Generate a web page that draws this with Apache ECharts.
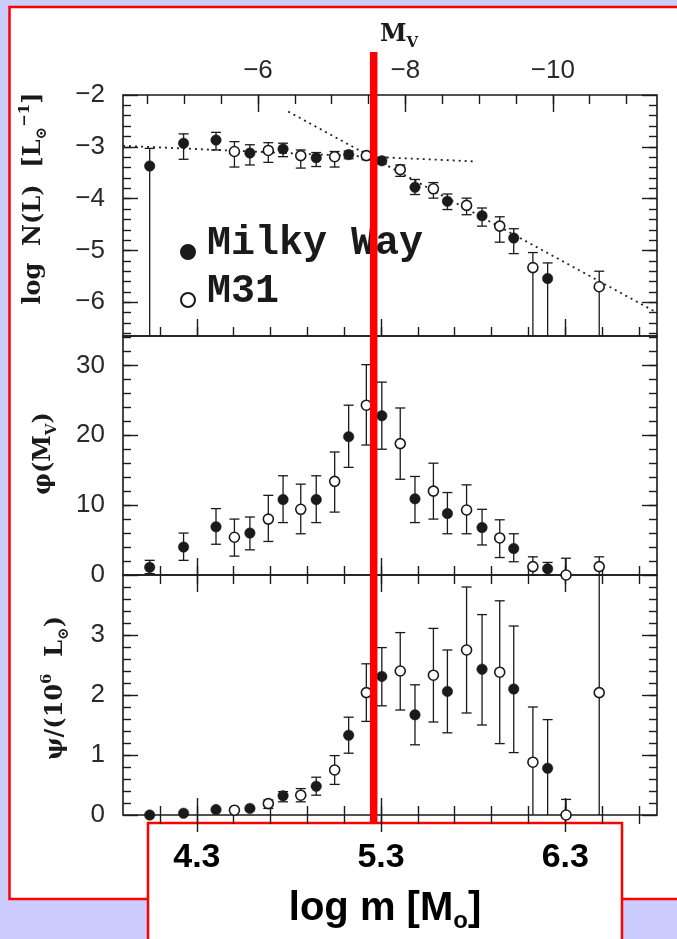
<!DOCTYPE html>
<html><head><meta charset="utf-8">
<script src="https://cdn.jsdelivr.net/npm/echarts@6/dist/echarts.min.js"></script>
<style>html,body{margin:0;padding:0;background:#ccccff;}#c{width:677px;height:939px;}</style>
</head><body><div id="c"></div>
<script>
// ---- x positions (absolute magnitude M_V of each bin) ----
const mwMv  = [-4.53, -4.99, -5.43, -5.89, -6.34, -6.79, -7.23, -7.68, -8.13, -8.57, -9.04, -9.47, -9.93];
const m31Mv = [-5.68, -6.14, -6.58, -7.04, -7.47, -7.93, -8.38, -8.83, -9.28, -9.73, -10.18, -10.63];

// ---- panel 1: log N(L) ----
const mwLogN    = [-3.37, -2.93, -2.87, -3.12, -3.04, -3.21, -3.15, -3.27, -3.78, -4.05, -4.33, -4.76, -5.54];
const mwLogNHi  = [-3.03, -2.75, -2.72, -2.96, -2.93, -3.11, -3.08, -3.20, -3.63, -3.91, -4.18, -4.58, -5.24];
const mwLogNLo  = [null, -3.24, -3.06, -3.35, -3.19, -3.38, -3.23, -3.33, -3.92, -4.21, -4.53, -5.06, null];
const m31LogN   = [-3.09, -3.07, -3.17, -3.19, -3.17, -3.44, -3.81, -4.13, -4.53, -5.33, null, -5.70];
const m31LogNHi = [-2.90, -2.92, -3.06, -3.09, -3.09, -3.35, -3.69, -3.99, -4.35, -5.04, null, -5.40];
const m31LogNLo = [-3.39, -3.30, -3.41, -3.39, -3.25, -3.57, -3.99, -4.31, -4.84, null, null, null];
// dotted fits in panel 1
const fitFlatMv    = [-4.168, -8.92];
const fitFlatLogN  = [-2.98, -3.28];
const fitSteepMv   = [-6.41, -11.414];
const fitSteepLogN = [-2.32, -6.20];

// ---- panel 2: phi(M_V) ----
const mwPhi    = [1.1, 4.0, 6.9, 6.0, 10.8, 10.8, 19.8, 22.8, 10.9, 8.8, 6.8, 3.8, 0.9];
const mwPhiHi  = [2.1, 6.0, 9.5, 8.3, 14.2, 14.2, 24.3, 27.6, 14.1, 11.8, 9.4, 5.9, 1.8];
const mwPhiLo  = [0.2, 2.1, 4.4, 3.6, 7.5, 7.5, 15.4, 18.0, 7.5, 5.9, 4.3, 1.9, 0];
const m31Phi   = [5.4, 8.0, 9.4, 13.4, 24.3, 18.8, 12.0, 9.3, 5.3, 1.2, 0, 1.2];
const m31PhiHi = [8.0, 11.4, 13.0, 17.6, 30.1, 23.9, 16.0, 12.9, 7.9, 2.6, 2.4, 2.6];
const m31PhiLo = [2.7, 4.8, 5.9, 9.0, 18.6, 13.7, 8.0, 5.9, 2.5, 0, 0, 0];

// ---- panel 3: psi / (10^6 L_sun) ----
const mwPsi    = [0.0, 0.03, 0.09, 0.11, 0.32, 0.48, 1.33, 2.31, 1.67, 2.06, 2.43, 2.10, 0.78];
const mwPsiHi  = [null, null, null, null, 0.39, 0.63, 1.63, 2.79, 2.17, 2.75, 3.34, 3.15, 1.59];
const mwPsiLo  = [null, null, null, null, 0.22, 0.33, 1.03, 1.82, 1.17, 1.37, 1.50, 1.04, null];
const m31Psi   = [0.08, 0.19, 0.33, 0.75, 2.04, 2.40, 2.33, 2.75, 2.38, 0.88, 0, 2.04];
const m31PsiHi = [null, 0.25, 0.44, 0.99, 2.52, 3.04, 3.11, 3.80, 3.57, 1.80, 0.26, 4.6];
const m31PsiLo = [null, 0.11, 0.22, 0.51, 1.56, 1.75, 1.55, 1.70, 1.19, null, null, null];

// ---- axis ranges & tick labels ----
const mvRange   = [-11.414, -4.168];
const logMRange = [3.899, 6.798];
const mvLabels  = [-6, -8, -10];
const logMLabels = [4.3, 5.3, 6.3];
const logNRange = [-6.65, -2];  const logNLabels = [-6, -5, -4, -3, -2];
const phiRange  = [0, 34.2];    const phiLabels  = [0, 10, 20, 30];
const psiRange  = [0, 4];       const psiLabels  = [0, 1, 2, 3];
const redMarkLogM = 5.26;

// ---------------------------------------------------------------
const ink = '#1a1a1a';
const step = (a, b, s) => { const r = []; for (let v = a; v <= b + 1e-9; v += s) r.push(+v.toFixed(3)); return r; };
const mvMinor   = step(-11, -4.5, 0.5);
const logMMinor = step(4.1, 6.7, 0.2);
const logNMinor = step(-6.6, -2.2, 0.2);
const phiMinor  = step(2, 34, 2);
const psiMinor  = step(0.2, 3.8, 0.2);
const minus = v => (v < 0 ? '\u2212' + String(Math.abs(v)) : String(v));
const labelFont = 'Liberation Sans';
const serif = 'DejaVu Serif';

function xTick(gi, kind, pos, vals, len, extra) {
  const mv = kind === 'mv';
  const r = mv ? mvRange : logMRange;
  return Object.assign({
    type: 'value', gridIndex: gi, position: pos, min: r[0], max: r[1], inverse: mv,
    axisLine: {show: false}, splitLine: {show: false},
    axisTick: {show: true, inside: true, length: len, customValues: vals, lineStyle: {color: ink, width: 1.4}},
    axisLabel: {show: false}
  }, extra || {});
}
function yTick(gi, pos, rng, vals, len, extra) {
  return Object.assign({
    type: 'value', gridIndex: gi, position: pos, min: rng[0], max: rng[1],
    axisLine: {show: false}, splitLine: {show: false},
    axisTick: {show: true, inside: true, length: len, customValues: vals, lineStyle: {color: ink, width: 1.4}},
    axisLabel: {show: false}
  }, extra || {});
}
const tickLabel = vals => ({show: true, customValues: vals, formatter: minus, fontSize: 26,
  fontFamily: labelFont, color: '#2a2a2a', margin: 18, showMinLabel: true, showMaxLabel: true});
const subRich = {
  b: {fontFamily: serif, fontWeight: 'bold', fontSize: 24, color: ink, lineHeight: 32},
  sub: {fontFamily: serif, fontWeight: 'bold', fontSize: 15, color: ink, lineHeight: 15, verticalAlign: 'bottom'},
  sup: {fontFamily: serif, fontWeight: 'bold', fontSize: 15, color: ink, lineHeight: 15, verticalAlign: 'top'}
};
const yName = (txt, gap, pad) => ({name: txt, nameLocation: 'middle', nameGap: gap, nameRotate: 90,
  nameTextStyle: {rich: subRich, padding: pad}});

const xAxis = [
  xTick(0, 'mv', 'top', mvLabels, 17, {
    axisLabel: {show: true, customValues: mvLabels, formatter: minus, fontSize: 26, fontFamily: labelFont,
      color: '#2a2a2a', margin: 11},
    name: '{b|M}{sub|V}', nameLocation: 'middle', nameGap: 44,
    nameTextStyle: {rich: subRich, padding: [0, 0, 0, 18]}
  }),
  xTick(0, 'mv', 'top', mvMinor, 9),
  xTick(0, 'lm', 'bottom', logMLabels, 17),
  xTick(0, 'lm', 'bottom', logMMinor, 9),
  xTick(1, 'mv', 'top', [], 0, {show: false}),
  xTick(1, 'lm', 'top', logMLabels, 17),
  xTick(1, 'lm', 'top', logMMinor, 9),
  xTick(1, 'lm', 'bottom', logMLabels, 17),
  xTick(1, 'lm', 'bottom', logMMinor, 9),
  xTick(2, 'mv', 'top', [], 0, {show: false}),
  xTick(2, 'lm', 'top', logMLabels, 17),
  xTick(2, 'lm', 'top', logMMinor, 9),
  xTick(2, 'lm', 'bottom', logMLabels, 17, {
    axisLabel: {show: true, customValues: logMLabels, formatter: v => v.toFixed(1), fontSize: 34,
      fontWeight: 'bold', fontFamily: labelFont, color: '#000', margin: 26},
    name: '{a|log m [M}{s|o}{a|]}', nameLocation: 'middle', nameGap: 70,
    nameTextStyle: {padding: [0, 10, 0, 0], rich: {
      a: {fontFamily: labelFont, fontWeight: 'bold', fontSize: 40, color: '#000', lineHeight: 48,
          textShadowColor: 'rgba(0,0,0,0.25)', textShadowOffsetX: 2, textShadowOffsetY: 2},
      s: {fontFamily: labelFont, fontWeight: 'bold', fontSize: 24, color: '#000', lineHeight: 24, verticalAlign: 'bottom',
          textShadowColor: 'rgba(0,0,0,0.25)', textShadowOffsetX: 2, textShadowOffsetY: 2}
    }}
  }),
  xTick(2, 'lm', 'bottom', logMMinor, 9)
];
const yAxis = [
  yTick(0, 'left', logNRange, logNLabels, 15, Object.assign({axisLabel: tickLabel(logNLabels)},
    yName('{b|log  N(L)  [L}{sub|\u2299}{sup|\u22121}{b|]}', 73, [0, 0, 0, 34]))),
  yTick(0, 'left', logNRange, logNMinor, 8),
  yTick(0, 'right', logNRange, logNLabels, 15),
  yTick(0, 'right', logNRange, logNMinor, 8),
  yTick(1, 'left', phiRange, phiLabels, 15, Object.assign({axisLabel: tickLabel(phiLabels)},
    yName('{b|\u03c6(M}{sub|V}{b|)}', 63, [0, 0, 0, 4]))),
  yTick(1, 'left', phiRange, phiMinor, 8),
  yTick(1, 'right', phiRange, phiLabels, 15),
  yTick(1, 'right', phiRange, phiMinor, 8),
  yTick(2, 'left', psiRange, psiLabels, 15, Object.assign({axisLabel: tickLabel(psiLabels)},
    yName('{b|\u03c8/(10}{sup|6}{b|  L}{sub|\u2299}{b|)}', 51, [0, 0, 0, 14]))),
  yTick(2, 'left', psiRange, psiMinor, 8),
  yTick(2, 'right', psiRange, psiLabels, 15),
  yTick(2, 'right', psiRange, psiMinor, 8)
];

const grid = [
  {left: 123, top: 95, width: 534, height: 241},
  {left: 123, top: 336, width: 534, height: 239},
  {left: 123, top: 575, width: 534, height: 240}
].map(g => Object.assign({show: true, borderColor: ink, borderWidth: 1.6, backgroundColor: 'rgba(0,0,0,0)'}, g));

function errRender(params, api) {
  const cs = params.coordSys;
  const x = api.value(0), lo = api.value(1), hi = api.value(2), capLo = api.value(3), capHi = api.value(4);
  const top = cs.y, bot = cs.y + cs.height;
  const pLo = api.coord([x, lo]), pHi = api.coord([x, hi]);
  const px = pLo[0];
  const yLo = Math.min(bot, Math.max(top, pLo[1]));
  const yHi = Math.min(bot, Math.max(top, pHi[1]));
  const st = {stroke: ink, lineWidth: 1.3};
  const ch = [{type: 'line', shape: {x1: px, y1: yLo, x2: px, y2: yHi}, style: st}];
  if (capLo) ch.push({type: 'line', shape: {x1: px - 5, y1: yLo, x2: px + 5, y2: yLo}, style: st});
  if (capHi) ch.push({type: 'line', shape: {x1: px - 5, y1: yHi, x2: px + 5, y2: yHi}, style: st});
  return {type: 'group', children: ch};
}
function errData(xs, vals, his, los, rng) {
  const out = [];
  xs.forEach((x, i) => {
    if (vals[i] == null) return;
    if (his[i] == null && los[i] == null) return;
    const hi = his[i] == null ? vals[i] : his[i];
    const lo = los[i] == null ? rng[0] : los[i];
    out.push([x, lo, hi, los[i] == null ? 0 : 1, (his[i] == null || his[i] > rng[1]) ? 0 : 1]);
  });
  return out;
}
const pts = (xs, vals) => xs.map((x, i) => [x, vals[i]]).filter(p => p[1] != null);

const dataX = [0, 4, 9], dataY = [0, 4, 8];
const panels = [
  {mw: [mwLogN, mwLogNHi, mwLogNLo], m31: [m31LogN, m31LogNHi, m31LogNLo], rng: logNRange},
  {mw: [mwPhi, mwPhiHi, mwPhiLo], m31: [m31Phi, m31PhiHi, m31PhiLo], rng: phiRange},
  {mw: [mwPsi, mwPsiHi, mwPsiLo], m31: [m31Psi, m31PsiHi, m31PsiLo], rng: psiRange}
];
const series = [];
panels.forEach((p, k) => {
  const ax = {xAxisIndex: dataX[k], yAxisIndex: dataY[k]};
  series.push(Object.assign({type: 'custom', name: 'errMW' + k, renderItem: errRender, z: 3, silent: true,
    encode: {x: 0, y: 1}, data: errData(mwMv, p.mw[0], p.mw[1], p.mw[2], p.rng)}, ax));
  series.push(Object.assign({type: 'custom', name: 'errM31' + k, renderItem: errRender, z: 3, silent: true,
    encode: {x: 0, y: 1}, data: errData(m31Mv, p.m31[0], p.m31[1], p.m31[2], p.rng)}, ax));
  series.push(Object.assign({type: 'scatter', name: 'Milky Way', symbol: 'circle', symbolSize: 10.5, z: 4,
    itemStyle: {color: ink, borderColor: ink, borderWidth: 0.5, opacity: 1}, data: pts(mwMv, p.mw[0])}, ax));
  series.push(Object.assign({type: 'scatter', name: 'M31', symbol: 'circle', symbolSize: 10, z: 4,
    itemStyle: {color: '#ffffff', borderColor: ink, borderWidth: 1.6, opacity: 1}, data: pts(m31Mv, p.m31[0])}, ax));
});
const dotted = {color: '#222', width: 1.8, type: [2, 4]};
series.push({type: 'line', name: 'fitFlat', xAxisIndex: 0, yAxisIndex: 0, symbol: 'none', z: 2, silent: true,
  lineStyle: dotted, data: pts(fitFlatMv, fitFlatLogN)});
series.push({type: 'line', name: 'fitSteep', xAxisIndex: 0, yAxisIndex: 0, symbol: 'none', z: 2, silent: true,
  lineStyle: dotted, data: pts(fitSteepMv, fitSteepLogN)});

const chart = echarts.init(document.getElementById('c'), null, {width: 677, height: 939});
chart.setOption({
  animation: false,
  backgroundColor: '#ccccff',
  grid, xAxis, yAxis, series,
  legend: {
    data: ['Milky Way', 'M31'], orient: 'vertical', left: 180, top: 224, padding: 0,
    itemWidth: 28, itemHeight: 14, itemGap: -8, selectedMode: false,
    formatter: name => '{t|' + name + '}',
    textStyle: {rich: {t: {fontFamily: 'Liberation Mono', fontWeight: 'bold', fontSize: 40, color: ink,
      lineHeight: 32, padding: [0, 0, 16, 0]}}}
  },
  graphic: [
    {type: 'rect', id: 'outer', z: -10, silent: true, shape: {x: 9.5, y: 7, width: 720, height: 892},
      style: {fill: '#ffffff', stroke: '#ff0000', lineWidth: 2.5}},
    {type: 'rect', id: 'inner', z: -9, silent: true, shape: {x: 148, y: 823, width: 474, height: 200},
      style: {fill: '#ffffff', stroke: '#ff0000', lineWidth: 2.5}}
  ]
});
const redX = chart.convertToPixel({xAxisIndex: 12}, redMarkLogM);
chart.setOption({graphic: [
  {type: 'rect', id: 'redline', z: 100, silent: true, shape: {x: redX - 3.75, y: 52, width: 7.5, height: 771},
    style: {fill: '#ff0000'}}
]});
</script></body></html>
